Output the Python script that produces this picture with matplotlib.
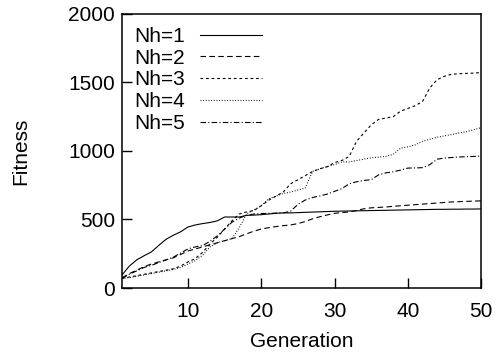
import matplotlib
matplotlib.use("Agg")
import matplotlib.pyplot as plt

# fitness per generation
generations = list(range(1, 51))

nh1 = [95, 160, 205, 235, 263, 310, 355, 385, 410, 445,
       460, 470, 478, 490, 518, 518, 518, 530, 532, 535,
       540, 545, 548, 548, 550, 552, 554, 556, 558, 560,
       561, 562, 563, 564, 565, 566, 567, 568, 569, 570,
       571, 572, 573, 574, 574, 575, 575, 576, 576, 577]

nh2 = [75, 105, 130, 155, 175, 190, 205, 220, 245, 270,
       285, 300, 315, 330, 345, 360, 375, 395, 415, 430,
       440, 448, 455, 460, 470, 485, 505, 520, 533, 545,
       550, 555, 565, 578, 585, 588, 591, 596, 600, 604,
       608, 612, 616, 620, 624, 628, 630, 632, 634, 636]

nh3 = [70, 80, 90, 100, 110, 120, 130, 140, 160, 190,
       215, 260, 320, 370, 430, 490, 540, 555, 565, 600,
       640, 670, 700, 760, 790, 820, 850, 870, 885, 915,
       930, 960, 1070, 1130, 1190, 1230, 1240, 1250, 1290, 1310,
       1330, 1360, 1460, 1520, 1545, 1560, 1563, 1566, 1568, 1572]

nh4 = [70, 75, 85, 95, 105, 115, 125, 135, 150, 175,
       200, 240, 300, 330, 345, 360, 440, 540, 570, 600,
       650, 670, 690, 700, 715, 730, 850, 870, 885, 900,
       920, 920, 930, 940, 950, 955, 960, 975, 1020, 1030,
       1044, 1070, 1085, 1100, 1110, 1120, 1131, 1140, 1155, 1170]

nh5 = [70, 100, 125, 150, 165, 185, 205, 225, 255, 285,
       300, 310, 340, 380, 430, 480, 510, 530, 540, 543,
       545, 546, 548, 560, 610, 642, 660, 672, 685, 705,
       725, 760, 775, 785, 790, 825, 840, 848, 860, 875,
       876, 878, 900, 940, 948, 952, 956, 958, 960, 963]

labels = ["Nh=1", "Nh=2", "Nh=3", "Nh=4", "Nh=5"]
series = [nh1, nh2, nh3, nh4, nh5]
styles = ["-", (0, (5, 3)), (0, (2.5, 2.5)), (0, (0.8, 1.6)), (0, (5, 2, 1, 2))]

plt.rcParams["font.family"] = ["Liberation Sans", "DejaVu Sans"]

fig = plt.figure(figsize=(4.97, 3.56), dpi=100)
ax = fig.add_axes([0.2455, 0.191, 0.7225, 0.770])

for y, lab, ls in zip(series, labels, styles):
    ax.plot(generations, y, color="black", linestyle=ls, linewidth=0.8, label=lab)

ax.set_xlim(1, 50)
ax.set_ylim(0, 2000)
ax.set_xticks([10, 20, 30, 40, 50])
ax.set_yticks([0, 500, 1000, 1500, 2000])
ax.tick_params(direction="in", length=7, width=1, labelsize=15,
               top=False, right=False)
ax.tick_params(axis="x", pad=10)
ax.tick_params(axis="y", pad=5)
for s in ax.spines.values():
    s.set_linewidth(1.1)

ax.set_xlabel("Generation", fontsize=15, labelpad=8)
ax.set_ylabel("Fitness", fontsize=15, labelpad=27)

ax.legend(loc="upper left", bbox_to_anchor=(0.005, 0.99), frameon=False,
          markerfirst=False, fontsize=15, handlelength=3.0, handletextpad=0.7,
          labelspacing=0.13, borderaxespad=0.2, borderpad=0.3)

fig.savefig("out.png", dpi=100)
